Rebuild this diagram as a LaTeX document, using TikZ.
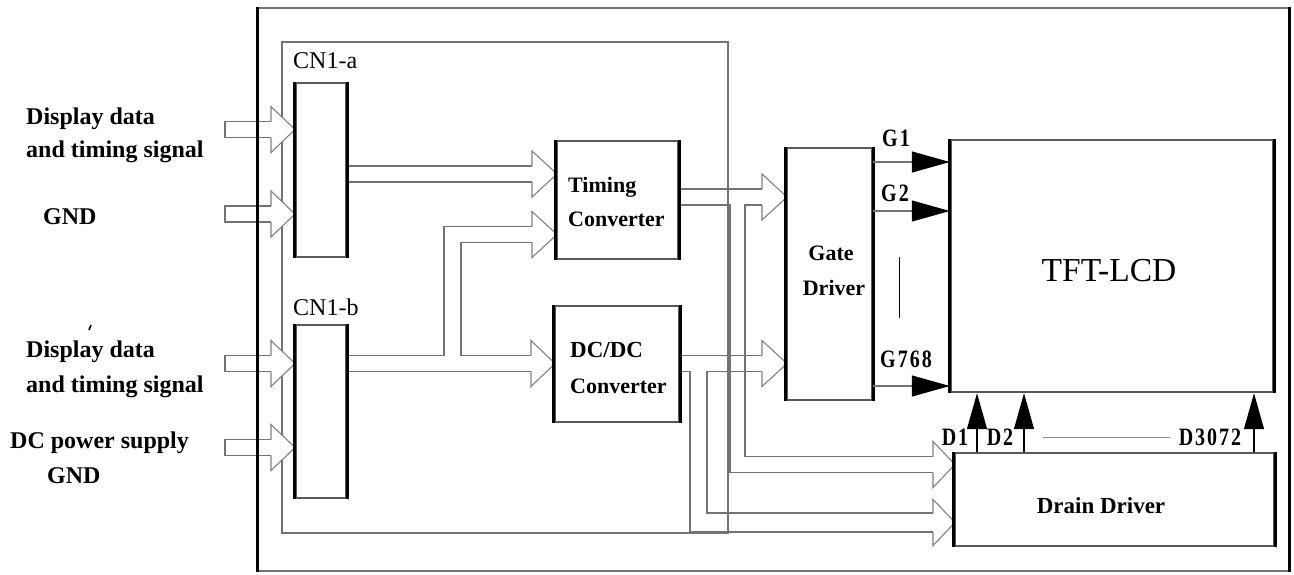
\documentclass[tikz,border=0pt]{standalone}
\usepackage{fontspec}
\setmainfont{Liberation Serif}
\newfontfamily\narrowfont[FakeStretch=0.8,LetterSpace=8]{Liberation Serif}
\usetikzlibrary{arrows.meta}
\newcommand\fsz[1]{\fontsize{#1}{#1}\selectfont}
\newcommand\vedges[1]{\draw[vedge] (#1.north west) -- (#1.south west) (#1.north east) -- (#1.south east);}
\newcommand\hollowhead[4]{\filldraw[head] (#1,#3-#4) -- (#1,#3-23) -- (#2,#3) -- (#1,#3+23) -- (#1,#3+#4);}
\begin{document}
\begin{tikzpicture}[x=1pt,y=-1pt,
  pipe/.style={draw=black!55, line width=1.3pt},
  head/.style={draw=black!50, line width=1.1pt, fill=white},
  blk/.style={draw=black!65, line width=2.4pt, inner sep=0pt},
  vedge/.style={draw=black, line width=3.2pt},
  frameline/.style={draw=black!55, line width=1.6pt, inner sep=0pt},
  pcbline/.style={draw=black!55, line width=1.2pt, inner sep=0pt},
  lefttxt/.style={inner sep=0pt, anchor=base west, font=\fsz{24}\bfseries},
  cntxt/.style={inner sep=0pt, anchor=base west, font=\fsz{24}},
  boxtxt/.style={inner sep=0pt, anchor=base west, font=\fsz{22}\bfseries},
  ctrtxt/.style={inner sep=0pt, anchor=base, font=\fsz{22}\bfseries},
  sig/.style={inner sep=0pt, anchor=base, font=\narrowfont\fsz{25}\bfseries},
  gline/.style={draw=black!55, line width=1.2pt, -{Triangle[length=38pt,width=21pt,color=black]}},
  dline/.style={draw=black, line width=1.2pt, -{Triangle[length=36pt,width=20pt]}}
]
\useasboundingbox (0,0) rectangle (1294,574);

% frames
\node[frameline, minimum width=1031pt, minimum height=563pt] (frame) at (773.5,289.5) {};
\node[pcbline, minimum width=446pt, minimum height=491pt] (pcb) at (505,287.5) {};

% blocks
\node[blk, minimum width=50pt, minimum height=174pt] (cna) at (321,170) {};
\node[blk, minimum width=50pt, minimum height=173pt] (cnb) at (321,411.5) {};
\node[blk, minimum width=121pt, minimum height=118pt] (tc) at (617.5,200) {};
\node[blk, minimum width=124pt, minimum height=116pt] (dc) at (617,364) {};
\node[blk, minimum width=85pt, minimum height=252pt] (gd) at (829.5,274) {};
\node[blk, minimum width=322pt, minimum height=252pt] (lcd) at (1112,266) {};
\node[blk, minimum width=319pt, minimum height=93pt] (dd) at (1114.5,499.5) {};

% external inputs
\foreach \cy in {129.5,214,363.5,447.5} {
  \draw[pipe] (271,\cy-8) -- (225,\cy-8) -- (225,\cy+8) -- (271,\cy+8);
  \hollowhead{271}{295}{\cy}{8}
}

% CN1-a -> Timing Converter
\draw[pipe] (cna.east |- 0,166) -- (532,166) (cna.east |- 0,182) -- (532,182);
\hollowhead{532}{557}{174}{8}

% CN1-b -> DC/DC and branch to Timing Converter
\draw[pipe] (cnb.east |- 0,355.5) -- (444,355.5) -- (444,226.5) -- (532,226.5);
\draw[pipe] (531,355.5) -- (461,355.5) -- (461,242.5) -- (532,242.5);
\draw[pipe] (cnb.east |- 0,371.5) -- (531,371.5);
\hollowhead{532}{557}{234.5}{8}
\hollowhead{531}{555}{363.5}{8}

% Timing Converter -> Gate Driver, Drain Driver
\draw[pipe] (tc.east |- 0,189) -- (762,189);
\draw[pipe] (tc.east |- 0,205) -- (730,205) -- (730,472.5) -- (933,472.5);
\draw[pipe] (762,205) -- (745,205) -- (745,456.5) -- (933,456.5);
\hollowhead{762}{787}{197}{8}
\hollowhead{933}{955}{464.5}{8}

% DC/DC -> Gate Driver, Drain Driver
\draw[pipe] (dc.east |- 0,355.5) -- (762,355.5);
\draw[pipe] (dc.east |- 0,371.5) -- (690,371.5) -- (690,532) -- (933,532);
\draw[pipe] (762,371.5) -- (707,371.5) -- (707,513) -- (933,513);
\hollowhead{762}{787}{363.5}{8}
\hollowhead{933}{955}{522.5}{9.5}

% thick vertical edges
\vedges{frame}
\vedges{cna}
\vedges{cnb}
\vedges{tc}
\vedges{dc}
\vedges{gd}
\vedges{lcd}
\vedges{dd}

% gate lines
\draw[gline] (gd.east |- 0,162) -- (lcd.west |- 0,162);
\draw[gline] (gd.east |- 0,211) -- (lcd.west |- 0,211);
\draw[gline] (gd.east |- 0,386) -- (lcd.west |- 0,386);
\draw[black, line width=1pt] (899,257) -- (899,318);

% drain lines
\draw[dline] (dd.north -| 977,0) -- (lcd.south -| 977,0);
\draw[dline] (dd.north -| 1024,0) -- (lcd.south -| 1024,0);
\draw[dline] (dd.north -| 1254,0) -- (lcd.south -| 1254,0);
\draw[black!45, line width=1pt] (1043,437) -- (1170,437);

% labels
\node[sig] (g1) at (896,146) {G1};
\node[sig] (g2) at (895,201) {G2};
\node[sig] (g768) at (906,367) {G768};
\node[sig] (d1) at (955,445) {D1};
\node[sig] (d2) at (1000,445) {D2};
\node[sig] (d3072) at (1210,445) {D3072};

\node[cntxt] (cnalbl) at (293,68) {CN1-a};
\node[cntxt] (cnblbl) at (293,315) {CN1-b};

\node[boxtxt] (tc1) at (568,192) {Timing};
\node[boxtxt] (tc2) at (568,226) {Converter};
\node[boxtxt, font=\fsz{23}\bfseries] (dc1) at (570,357) {DC/DC};
\node[boxtxt] (dc2) at (570,393) {Converter};
\node[ctrtxt] (gd1) at (831,260) {Gate};
\node[ctrtxt] (gd2) at (834,295) {Driver};
\node[inner sep=0pt, anchor=base, font=\fsz{33.5}] (lcdtxt) at (1109,281) {TFT-LCD};
\node[ctrtxt, font=\fsz{23}\bfseries] (ddtxt) at (1101,513) {Drain Driver};

\node[lefttxt] (in1a) at (26,124) {Display data};
\node[lefttxt] (in1b) at (26,157) {and timing signal};
\node[lefttxt] (in2) at (43,224) {GND};
\node[lefttxt] (in3a) at (26,357) {Display data};
\node[lefttxt] (in3b) at (26,392) {and timing signal};
\node[lefttxt] (in4a) at (10,448) {DC power supply};
\node[lefttxt] (in4b) at (47,483) {GND};
\draw[black, line width=1.6pt] (91,325) -- (89,330);
\end{tikzpicture}
\end{document}
